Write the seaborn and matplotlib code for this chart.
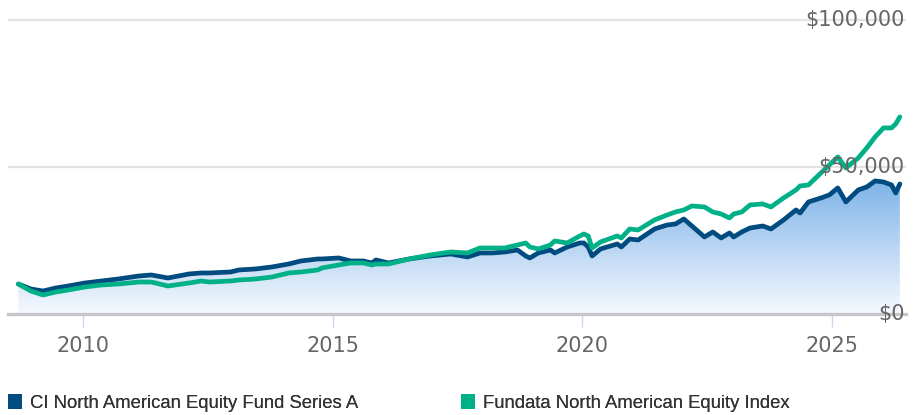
import numpy as np
import pandas as pd
import matplotlib
matplotlib.use("Agg")
import matplotlib.pyplot as plt
import matplotlib.dates as mdates
from matplotlib.colors import LinearSegmentedColormap
from matplotlib.patches import Patch
import seaborn as sns

# ---------------- data ----------------
dates = [
    "2008-09", "2008-12", "2009-03", "2009-06", "2009-09", "2010-01", "2010-05", "2010-09",
    "2011-02", "2011-05", "2011-09", "2012-02", "2012-05", "2012-07", "2012-12", "2013-02",
    "2013-06", "2013-10", "2014-02", "2014-05", "2014-09", "2014-10", "2015-02", "2015-05",
    "2015-08", "2015-10", "2015-11", "2016-02", "2016-07", "2016-12", "2017-05", "2017-09",
    "2017-12", "2018-03", "2018-06", "2018-09", "2018-11", "2018-12", "2019-02", "2019-05",
    "2019-06", "2019-09", "2019-12", "2020-01", "2020-02", "2020-03", "2020-05", "2020-09",
    "2020-10", "2020-12", "2021-02", "2021-06", "2021-09", "2021-11", "2022-01", "2022-03",
    "2022-06", "2022-08", "2022-10", "2022-12", "2023-01", "2023-03", "2023-05", "2023-08",
    "2023-10", "2024-01", "2024-04", "2024-05", "2024-07", "2024-10", "2024-12", "2025-02",
    "2025-04", "2025-07", "2025-09", "2025-11", "2026-01", "2026-03", "2026-04", "2026-05",
]
fund_values = [
    10200, 8500, 7820, 8840, 9520, 10540, 11220, 11900,
    12930, 13270, 12240, 13610, 13950, 13950, 14290, 14970,
    15310, 15990, 17010, 18030, 18710, 18710, 19050, 18030,
    18030, 17350, 18370, 17350, 18710, 19730, 20410, 19390,
    20750, 20750, 21090, 21770, 19730, 19050, 20750, 21770,
    20750, 22790, 24150, 24150, 22790, 19730, 22110, 23810,
    22790, 25510, 25170, 28910, 30270, 30610, 32310, 29930,
    26190, 27890, 25850, 27550, 26190, 27890, 29250, 29930,
    28910, 31970, 35370, 34350, 38100, 39460, 40480, 42860,
    38100, 42180, 43200, 45240, 44900, 43880, 41160, 44220,
]
index_values = [
    10200, 7820, 6460, 7480, 8160, 9180, 9860, 10200,
    10880, 10880, 9520, 10540, 11220, 10880, 11220, 11560,
    11900, 12580, 13950, 14290, 14970, 15650, 16670, 17350,
    17350, 16670, 17010, 17010, 18710, 20070, 21090, 20750,
    22450, 22450, 22450, 23470, 24150, 22790, 22110, 23470,
    24830, 24150, 26530, 27210, 26530, 22450, 24490, 26530,
    25850, 28910, 28570, 31970, 33670, 34690, 35370, 36730,
    36390, 34690, 34010, 32650, 34010, 34690, 37080, 37420,
    36390, 39460, 42180, 43540, 43880, 47960, 50680, 53400,
    49660, 53060, 56460, 60200, 63270, 63270, 64630, 67010,
]
series_names = ["CI North American Equity Fund Series A", "Fundata North American Equity Index"]
series_colors = ["#004b80", "#00b188"]
y_ticks = [0, 50000, 100000]
y_tick_labels = ["$0", "$50,000", "$100,000"]
x_ticks = ["2010", "2015", "2020", "2025"]

# ---------------- build frame ----------------
dt = pd.to_datetime([d + "-15" for d in dates])
df = pd.concat([
    pd.DataFrame({"date": dt, "value": fund_values, "series": series_names[0]}),
    pd.DataFrame({"date": dt, "value": index_values, "series": series_names[1]}),
], ignore_index=True)

sns.set_theme(style="white")
plt.rcParams["font.family"] = ["DejaVu Sans"]

W, H = 918, 415
fig = plt.figure(figsize=(W / 100, H / 100), dpi=100)
ax_left, ax_right = 8, 906
ax_top, ax_bottom = 14, 314
ax = fig.add_axes([ax_left / W, (H - ax_bottom) / H, (ax_right - ax_left) / W, (ax_bottom - ax_top) / H])

# gradient area under fund series
xnum = mdates.date2num(dt)
fill = ax.fill_between(xnum, fund_values, 0, facecolor="none", edgecolor="none")
cmap = LinearSegmentedColormap.from_list("g", ["#f6f9fe", "#7db3e8"])
grad = np.linspace(0, 1, 256).reshape(-1, 1)
ymax = max(fund_values)
im = ax.imshow(grad, cmap=cmap, aspect="auto", origin="lower",
               extent=[xnum[0], xnum[-1], 0, ymax], zorder=1, interpolation="bilinear")
im.set_clip_path(fill.get_paths()[0], transform=ax.transData)

sns.lineplot(data=df, x="date", y="value", hue="series", hue_order=series_names,
             palette=series_colors, linewidth=3.4, legend=False, ax=ax, sort=False, zorder=3)
for ln in ax.get_lines():
    ln.set_solid_joinstyle("round")
    ln.set_solid_capstyle("round")

# axes limits
ax.set_xlim(pd.Timestamp("2008-07-01"), pd.Timestamp("2026-06-29"))
ax.set_ylim(0, 102000)

# grid lines (y)
for v in y_ticks[1:]:
    ax.axhline(v, color="#e3e3e3", lw=1.6, zorder=0)
for s in ["top", "right", "left"]:
    ax.spines[s].set_visible(False)
ax.spines["bottom"].set_color("#c6c6cc")
ax.spines["bottom"].set_linewidth(2.4)
ax.spines["bottom"].set_zorder(4)

# y labels inside right
ax.set_yticks([])
for v, lab in zip(y_ticks, y_tick_labels):
    ax.text(0.9985, v, lab, transform=ax.get_yaxis_transform(), ha="right", va="center",
            fontsize=15, color="#666666", zorder=6)

# x ticks
ax.set_xticks([pd.Timestamp(y + "-01-01") for y in x_ticks])
ax.set_xticklabels(x_ticks)
ax.tick_params(axis="x", length=9, width=1, color="#ccd6eb", pad=7, labelsize=15,
               labelcolor="#666666", direction="out", bottom=True)
ax.set_xlabel("")
ax.set_ylabel("")

# legend
handles = [Patch(facecolor=c, edgecolor="none") for c in series_colors]
xs = [8, 461]
for h, name, x0 in zip(handles, series_names, xs):
    lg = fig.legend([h], [name], loc="center left", bbox_to_anchor=(x0 / W, 1 - 403 / H),
                    frameon=False, borderpad=0, borderaxespad=0, handlelength=0.78,
                    handleheight=0.88, handletextpad=0.42,
                    prop={"family": "Liberation Sans", "size": 13.3})
    for t in lg.get_texts():
        t.set_color("#333333")
    fig.add_artist(lg)

fig.savefig("out.png", dpi=100)
